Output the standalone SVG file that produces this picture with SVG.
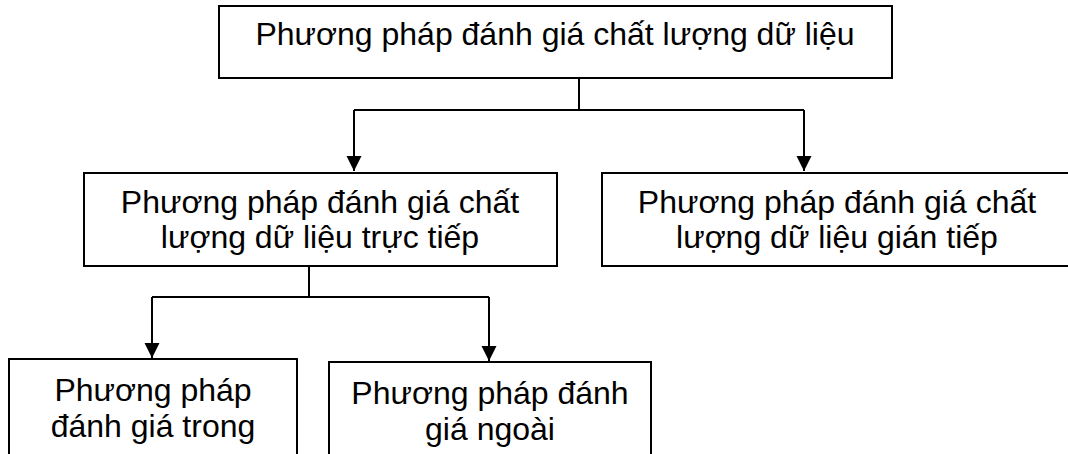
<svg xmlns="http://www.w3.org/2000/svg" width="1068" height="454" viewBox="0 0 1068 454">
<style>
.box{fill:#fff;stroke:#000;stroke-width:2}
.t{font-family:"Liberation Sans",Arial,sans-serif;font-size:32px;fill:#000;text-anchor:middle}
.c{fill:none;stroke:#000;stroke-width:2}
</style>
<defs>
<marker id="ah" markerUnits="userSpaceOnUse" markerWidth="16" markerHeight="16" viewBox="0 0 16 16" refX="15" refY="8" orient="auto">
<path d="M0,0.5 L15,8 L0,15.5 Z" fill="#000"/>
</marker>
</defs>
<rect width="1068" height="454" fill="#fff"/>
<g id="connectors">
<path class="c" d="M579,78 V110 M354,110 H804"/>
<path class="c" d="M354,110 V171" marker-end="url(#ah)"/>
<path class="c" d="M804,110 V171" marker-end="url(#ah)"/>
<path class="c" d="M309,266 V297 M152,297 H489"/>
<path class="c" d="M152,297 V358" marker-end="url(#ah)"/>
<path class="c" d="M489,297 V361" marker-end="url(#ah)"/>
</g>
<g id="n-root">
<rect class="box" x="219" y="6" width="673" height="72"/>
<text class="t" x="555" y="45">Phương pháp đánh giá chất lượng dữ liệu</text>
</g>
<g id="n-direct">
<rect class="box" x="84" y="173" width="473" height="93"/>
<text class="t" x="320" y="213">Phương pháp đánh giá chất</text>
<text class="t" x="320" y="248">lượng dữ liệu trực tiếp</text>
</g>
<g id="n-indirect">
<rect class="box" x="602" y="173" width="470" height="93"/>
<text class="t" x="837" y="213">Phương pháp đánh giá chất</text>
<text class="t" x="837" y="248">lượng dữ liệu gián tiếp</text>
</g>
<g id="n-internal">
<rect class="box" x="9" y="359" width="288" height="110"/>
<text class="t" x="153" y="401">Phương pháp</text>
<text class="t" x="153" y="437">đánh giá trong</text>
</g>
<g id="n-external">
<rect class="box" x="329" y="362" width="322" height="110"/>
<text class="t" x="490" y="404">Phương pháp đánh</text>
<text class="t" x="490" y="440">giá ngoài</text>
</g>
</svg>
